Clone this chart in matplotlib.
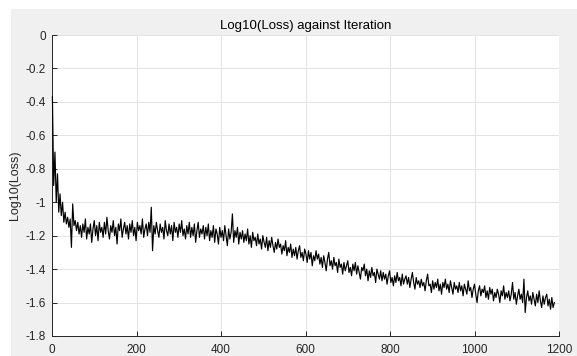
import numpy as np
import matplotlib
matplotlib.use("Agg")
import matplotlib.pyplot as plt
from matplotlib.patches import Rectangle

plt.rcParams['font.family'] = ['Liberation Sans', 'DejaVu Sans']

title = "Log10(Loss) against Iteration"
ylabel = "Log10(Loss)"
iter_step = 3
log_loss = [
    -0.37, -0.90, -0.70, -1.00, -0.83, -1.06, -0.95, -1.08, -1.00, -1.12,
    -1.06, -1.13, -1.09, -1.15, -1.10, -1.27, -1.01, -1.14, -1.11, -1.17,
    -1.12, -1.19, -1.14, -1.21, -1.13, -1.18, -1.10, -1.22, -1.15, -1.19,
    -1.13, -1.24, -1.16, -1.11, -1.20, -1.14, -1.23, -1.12, -1.18, -1.15,
    -1.21, -1.12, -1.19, -1.09, -1.17, -1.22, -1.14, -1.18, -1.11, -1.20,
    -1.15, -1.25, -1.13, -1.17, -1.10, -1.21, -1.16, -1.12, -1.19, -1.14,
    -1.22, -1.13, -1.18, -1.11, -1.20, -1.15, -1.23, -1.12, -1.17, -1.14,
    -1.19, -1.10, -1.21, -1.16, -1.13, -1.20, -1.12, -1.18, -1.03, -1.29,
    -1.14, -1.19, -1.12, -1.17, -1.21, -1.13, -1.18, -1.15, -1.22, -1.11,
    -1.17, -1.20, -1.13, -1.19, -1.14, -1.23, -1.12, -1.18, -1.15, -1.21,
    -1.13, -1.18, -1.11, -1.20, -1.16, -1.22, -1.14, -1.19, -1.12, -1.21,
    -1.15, -1.20, -1.13, -1.24, -1.17, -1.12, -1.21, -1.16, -1.19, -1.14,
    -1.22, -1.15, -1.20, -1.13, -1.23, -1.17, -1.21, -1.14, -1.24, -1.16,
    -1.19, -1.25, -1.15, -1.21, -1.17, -1.23, -1.14, -1.20, -1.26, -1.16,
    -1.22, -1.18, -1.07, -1.24, -1.17, -1.21, -1.15, -1.25, -1.18, -1.22,
    -1.17, -1.24, -1.19, -1.23, -1.16, -1.25, -1.20, -1.27, -1.18, -1.23,
    -1.21, -1.26, -1.19, -1.25, -1.22, -1.28, -1.20, -1.24, -1.27, -1.21,
    -1.29, -1.23, -1.27, -1.21, -1.26, -1.30, -1.24, -1.28, -1.22, -1.27,
    -1.25, -1.31, -1.26, -1.29, -1.23, -1.32, -1.27, -1.30, -1.25, -1.33,
    -1.28, -1.32, -1.27, -1.34, -1.29, -1.26, -1.33, -1.30, -1.35, -1.28,
    -1.31, -1.36, -1.29, -1.34, -1.30, -1.38, -1.32, -1.35, -1.29, -1.34,
    -1.31, -1.37, -1.33, -1.39, -1.32, -1.36, -1.41, -1.34, -1.30, -1.38,
    -1.35, -1.40, -1.33, -1.38, -1.36, -1.42, -1.34, -1.39, -1.37, -1.43,
    -1.36, -1.41, -1.38, -1.35, -1.42, -1.39, -1.44, -1.37, -1.41, -1.36,
    -1.43, -1.38, -1.42, -1.46, -1.39, -1.41, -1.37, -1.44, -1.40, -1.47,
    -1.41, -1.45, -1.39, -1.44, -1.42, -1.48, -1.40, -1.43, -1.46, -1.41,
    -1.47, -1.42, -1.46, -1.43, -1.49, -1.44, -1.41, -1.48, -1.45, -1.50,
    -1.44, -1.48, -1.42, -1.47, -1.45, -1.50, -1.43, -1.49, -1.46, -1.44,
    -1.49, -1.45, -1.51, -1.46, -1.42, -1.48, -1.52, -1.45, -1.49, -1.47,
    -1.51, -1.46, -1.50, -1.48, -1.53, -1.47, -1.43, -1.50, -1.49, -1.54,
    -1.47, -1.52, -1.48, -1.51, -1.46, -1.53, -1.49, -1.55, -1.48, -1.51,
    -1.46, -1.52, -1.49, -1.54, -1.47, -1.51, -1.55, -1.48, -1.52, -1.50,
    -1.54, -1.48, -1.53, -1.50, -1.56, -1.49, -1.52, -1.55, -1.47, -1.53,
    -1.51, -1.57, -1.52, -1.49, -1.55, -1.60, -1.53, -1.50, -1.56, -1.52,
    -1.54, -1.50, -1.57, -1.53, -1.58, -1.51, -1.55, -1.52, -1.59, -1.54,
    -1.57, -1.52, -1.55, -1.60, -1.53, -1.56, -1.50, -1.58, -1.54, -1.57,
    -1.53, -1.59, -1.55, -1.48, -1.58, -1.54, -1.61, -1.56, -1.52, -1.58,
    -1.55, -1.60, -1.46, -1.66, -1.57, -1.53, -1.59, -1.56, -1.61, -1.54,
    -1.58, -1.62, -1.55, -1.60, -1.53, -1.59, -1.63, -1.56, -1.61, -1.57,
    -1.55, -1.62, -1.58, -1.64, -1.57, -1.63, -1.60,
]
iterations = 1 + np.arange(len(log_loss)) * iter_step
xticks = [0, 200, 400, 600, 800, 1000, 1200]
yticks = [0, -0.2, -0.4, -0.6, -0.8, -1, -1.2, -1.4, -1.6, -1.8]
ytick_labels = ["0", "-0.2", "-0.4", "-0.6", "-0.8", "-1", "-1.2", "-1.4", "-1.6", "-1.8"]

W, H = 577, 356
fig = plt.figure(figsize=(W / 100, H / 100), dpi=100, facecolor='#f0f0f0')
# white screenshot border strips (top and left)
fig.patches.append(Rectangle((0, 1 - 9 / H), 1, 9 / H, transform=fig.transFigure,
                             facecolor='white', edgecolor='none', zorder=-1))
fig.patches.append(Rectangle((0, 0), 11 / W, 1, transform=fig.transFigure,
                             facecolor='white', edgecolor='none', zorder=-1))

ax = fig.add_axes([52 / W, 1 - 336 / H, (559 - 52) / W, (336 - 35) / H])
ax.set_facecolor('white')
ax.plot(iterations, log_loss, color='black', linewidth=0.85, zorder=3, clip_on=False)

ax.set_xlim(0, 1200)
ax.set_ylim(-1.8, 0)
ax.set_xticks(xticks)
ax.set_yticks(yticks)
ax.set_yticklabels(ytick_labels)
ax.grid(True, color='#e3e3e3', linewidth=0.7)
ax.set_axisbelow(True)

axis_color = '#262626'
for s in ['top', 'right']:
    ax.spines[s].set_visible(False)
for s in ['left', 'bottom']:
    ax.spines[s].set_color(axis_color)
    ax.spines[s].set_linewidth(0.7)
    ax.spines[s].set_zorder(2)
ax.tick_params(direction='in', length=3.6, width=0.7, colors=axis_color,
               labelsize=8.5, pad=4.5)
ax.tick_params(axis='x', pad=6)

ax.set_title(title, fontsize=9.5, color='#000000', pad=4)
ax.set_ylabel(ylabel, fontsize=9, color=axis_color, labelpad=3)

fig.savefig("out.png", dpi=100, facecolor=fig.get_facecolor())
